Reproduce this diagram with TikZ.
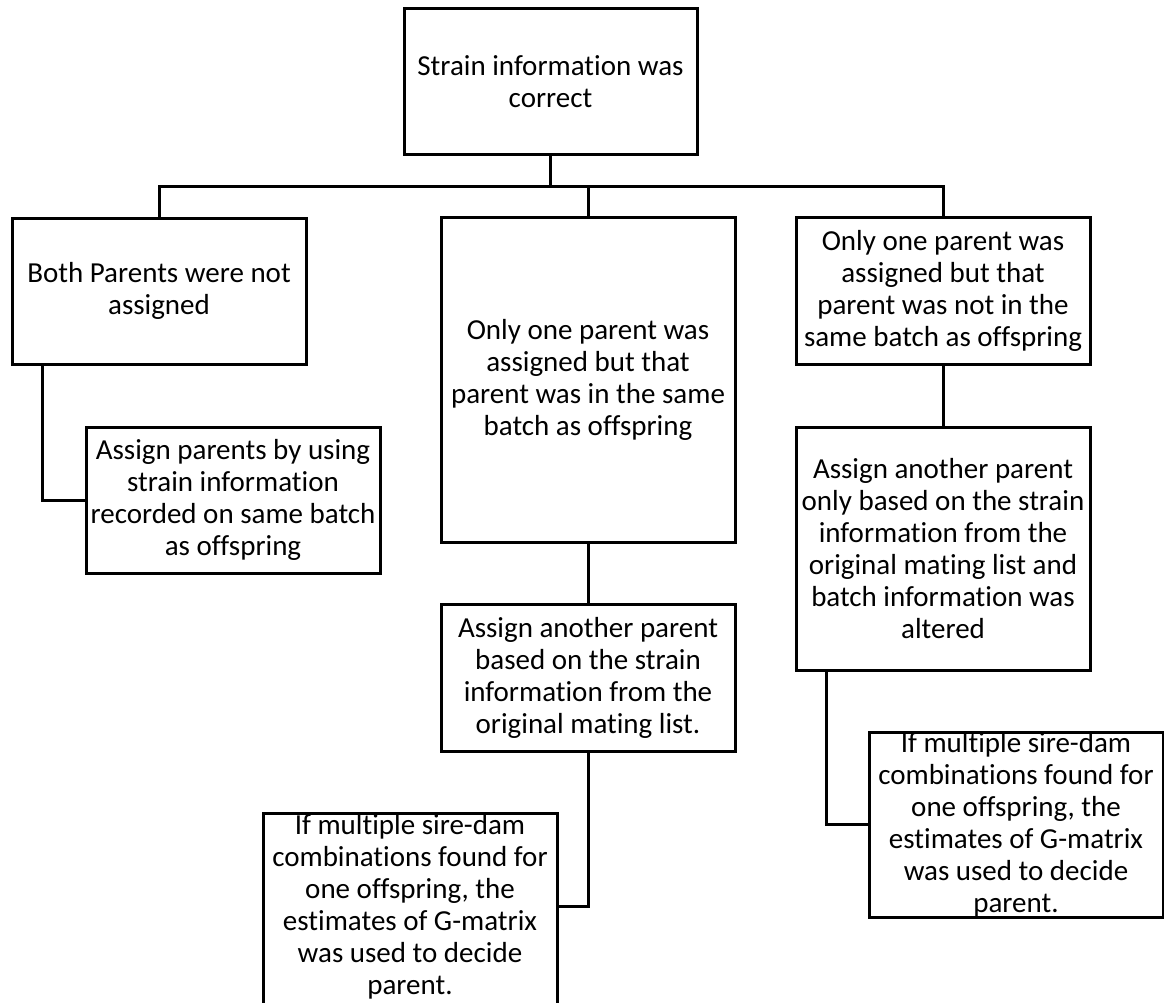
\documentclass[tikz,border=0pt]{standalone}
\usepackage{fontspec}
\setmainfont{Carlito}[Ligatures=CommonOff]
\tikzset{
  box/.style={draw=black, line width=3pt, inner sep=0pt, outer sep=0pt, align=center, anchor=north west},
  txt/.style={inner sep=0pt, align=center},
  conn/.style={draw=black, line width=3pt},
}
\begin{document}
\begin{tikzpicture}[x=1pt, y=-1pt, font=\fontsize{29}{32}\selectfont]
\useasboundingbox (0,0) rectangle (1164,1003);
\clip (0,0) rectangle (1164,1003);
% boxes
\node[box, minimum width=293pt, minimum height=146pt] (top) at (404,9) {Strain information was\\correct};
\node[box, minimum width=294pt, minimum height=146pt] (b1) at (12,218) {Both Parents were not\\assigned};
\node[box, minimum width=294pt, minimum height=325pt] (b2) at (441,217) {Only one parent was\\assigned but that\\parent was in the same\\batch as offspring};
\node[box, minimum width=294pt, minimum height=147pt] (b3) at (796,217) {Only one parent was\\assigned but that\\parent was not in the\\same batch as offspring};
\node[box, minimum width=294pt, minimum height=146pt] (c1) at (86,427) {Assign parents by using\\strain information\\recorded on same batch\\as offspring};
\node[box, minimum width=294pt, minimum height=147pt] (c2) at (441,604) {Assign another parent\\based on the strain\\information from the\\original mating list.};
\node[box, minimum width=294pt, minimum height=243pt] (c3) at (796,427) {Assign another parent\\only based on the strain\\information from the\\original mating list and\\batch information was\\altered};
\node[box, minimum width=294pt, minimum height=185pt] (c4) at (869,732) {};
\node[txt] (c4t) at (c4.center) {If multiple sire-dam\\combinations found for\\one offspring, the\\estimates of G-matrix\\was used to decide\\parent.};
\node[box, minimum width=294pt, minimum height=198pt] (c5) at (263,813) {};
\node[txt] (c5t) at ([yshift=5pt]c5.center) {If multiple sire-dam\\combinations found for\\one offspring, the\\estimates of G-matrix\\was used to decide\\parent.};
% connectors
\coordinate (bar) at (550.5,187);
\draw[conn] (top.south) -- (top.south |- bar);
\draw[conn] (b1.north) |- (bar) -| (b3.north);
\draw[conn] (b2.north) -- (b2.north |- bar);
\draw[conn] (b1.south west) ++(30,0) |- (c1.west);
\draw[conn] (b2.south) -- (c2.north);
\draw[conn] (b3.south) -- (c3.north);
\draw[conn] (c2.south) |- ([yshift=6pt]c5.east);
\draw[conn] (c3.south west) ++(30,0) |- (c4.west);
\end{tikzpicture}
\end{document}
